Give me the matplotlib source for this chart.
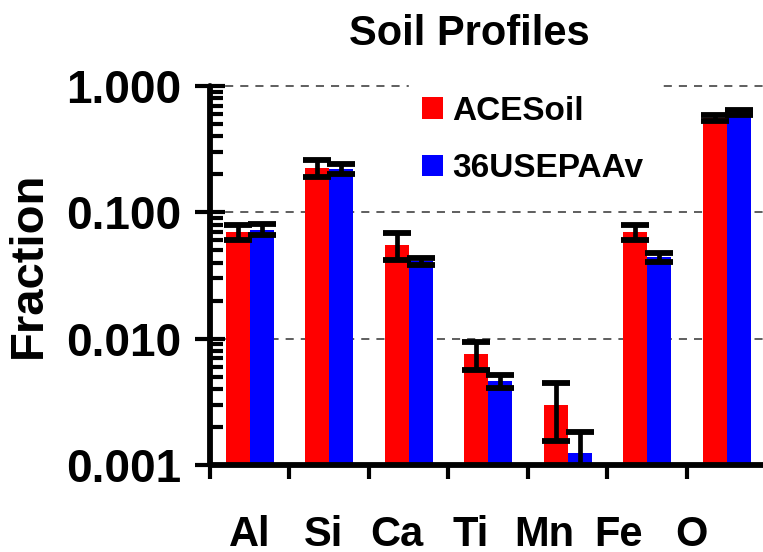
import numpy as np
import matplotlib.pyplot as plt
from matplotlib.ticker import LogLocator, FixedLocator, FixedFormatter, NullFormatter

plt.rcParams['font.family'] = ['Liberation Sans', 'DejaVu Sans']
plt.rcParams['font.weight'] = 'bold'

elements = ['Al', 'Si', 'Ca', 'Ti', 'Mn', 'Fe', 'O']

ace = [0.070, 0.225, 0.055, 0.0075, 0.0030, 0.070, 0.557]
ace_err = [0.010, 0.034, 0.013, 0.0019, 0.00145, 0.010, 0.030]

usepa = [0.073, 0.222, 0.041, 0.0046, 0.00125, 0.044, 0.615]
usepa_err = [0.0074, 0.021, 0.0025, 0.00055, 0.00058, 0.0033, 0.030]

x = np.arange(len(elements))
w = 0.30

fig = plt.figure(figsize=(7.63, 5.52), dpi=100)
ax = fig.add_axes([0.2752, 0.1576, 0.7248, 0.6866])
ax.set_yscale('log')

# dashed grid at the decades
for g in [0.01, 0.1, 1.0]:
    ax.axhline(g, color='#333333', lw=1.1, ls=(0, (5.3, 4.6)), zorder=0, clip_on=False)

ebar = dict(ecolor='black', elinewidth=3.4, capsize=10, capthick=4.2, zorder=3)
ax.bar(x - w/2, ace, w, color='#ff0000', label='ACESoil', zorder=2)
ax.bar(x + w/2, usepa, w, color='#0000ff', label='36USEPAAv', zorder=2)
ax.errorbar(x - w/2, ace, yerr=ace_err, fmt='none', **ebar)
ax.errorbar(x + w/2, usepa, yerr=usepa_err, fmt='none', **ebar)

ax.set_ylim(0.001, 1.0)
ax.set_xlim(-0.5, 6.456)

for s in ['top', 'right']:
    ax.spines[s].set_visible(False)
for s in ['left', 'bottom']:
    ax.spines[s].set_linewidth(4.2)
    ax.spines[s].set_capstyle('round')

# y axis: decades with inout ticks, minor ticks inside
ax.yaxis.set_major_locator(FixedLocator([0.001, 0.01, 0.1, 1.0]))
ax.yaxis.set_major_formatter(FixedFormatter(['0.001', '0.010', '0.100', '1.000']))
ax.yaxis.set_minor_locator(LogLocator(base=10, subs=np.arange(2, 10)))
ax.yaxis.set_minor_formatter(NullFormatter())
ax.tick_params(axis='y', which='major', direction='inout', length=21, width=3, pad=10, labelsize=33)
ax.tick_params(axis='y', which='minor', direction='in', length=9, width=3)

# x axis: labels packed a bit tighter than the groups, ticks at group boundaries
ax.xaxis.set_major_locator(FixedLocator(x * 0.927))
ax.xaxis.set_major_formatter(FixedFormatter(elements))
ax.xaxis.set_minor_locator(FixedLocator(np.arange(-0.5, 7, 1.0)))
ax.tick_params(axis='x', which='major', length=0, pad=36, labelsize=30)
ax.tick_params(axis='x', which='minor', direction='out', length=10, width=3)

leg = ax.legend(loc='upper left', bbox_to_anchor=(0.359, 1.009), fontsize=24,
                frameon=True, fancybox=False, edgecolor='white', facecolor='white',
                framealpha=1, handlelength=0.62, handleheight=0.62, handletextpad=0.3,
                labelspacing=0.79, borderpad=0.4, borderaxespad=0)
leg.set_zorder(5)

fig.text(469/763, 1 - 34/552, 'Soil Profiles', ha='center', va='center', fontsize=30, fontweight='bold')
fig.text(29/763, 1 - 265/552, 'Fraction', rotation=90, ha='center', va='center', fontsize=34, fontweight='bold')

fig.savefig('out.png', dpi=100)
